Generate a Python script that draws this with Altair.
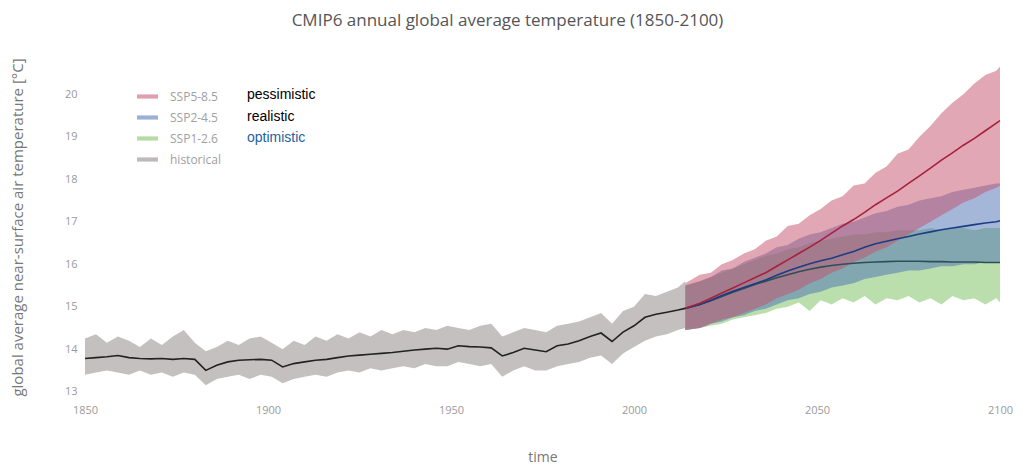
import altair as alt
import pandas as pd

# ---------------- data ----------------
hist_years = [1850, 1853, 1856, 1859, 1862, 1865, 1868, 1871, 1874, 1877,
              1880, 1883, 1886, 1889, 1892, 1895, 1898, 1901, 1904, 1907,
              1910, 1913, 1916, 1919, 1922, 1925, 1928, 1931, 1934, 1937,
              1940, 1943, 1946, 1949, 1952, 1955, 1958, 1961, 1964, 1967,
              1970, 1973, 1976, 1979, 1982, 1985, 1988, 1991, 1994, 1997,
              2000, 2003, 2006, 2009, 2012, 2014]
hist_mean = [13.78, 13.80, 13.82, 13.85, 13.80, 13.78, 13.77, 13.78, 13.76, 13.78,
             13.76, 13.50, 13.62, 13.70, 13.74, 13.75, 13.76, 13.74, 13.58, 13.66,
             13.70, 13.74, 13.76, 13.80, 13.84, 13.86, 13.88, 13.90, 13.92, 13.95,
             13.98, 14.00, 14.02, 14.00, 14.08, 14.06, 14.05, 14.03, 13.84, 13.92,
             14.02, 13.98, 13.94, 14.08, 14.12, 14.20, 14.30, 14.38, 14.18, 14.40,
             14.55, 14.75, 14.82, 14.87, 14.92, 14.96]
hist_hi = [14.25, 14.35, 14.15, 14.30, 14.20, 14.05, 14.25, 14.10, 14.30, 14.45,
           14.15, 13.95, 14.05, 14.20, 14.10, 14.25, 14.30, 14.15, 14.00, 14.20,
           14.10, 14.30, 14.20, 14.35, 14.25, 14.40, 14.30, 14.45, 14.35, 14.45,
           14.40, 14.50, 14.45, 14.55, 14.50, 14.45, 14.55, 14.60, 14.30, 14.40,
           14.50, 14.45, 14.40, 14.55, 14.60, 14.65, 14.75, 14.85, 14.60, 14.90,
           15.00, 15.30, 15.25, 15.35, 15.45, 15.60]
hist_lo = [13.40, 13.45, 13.50, 13.45, 13.40, 13.50, 13.40, 13.45, 13.35, 13.45,
           13.40, 13.15, 13.30, 13.35, 13.40, 13.30, 13.40, 13.35, 13.20, 13.30,
           13.35, 13.40, 13.35, 13.45, 13.50, 13.45, 13.55, 13.50, 13.55, 13.60,
           13.55, 13.65, 13.60, 13.60, 13.70, 13.65, 13.60, 13.65, 13.35, 13.50,
           13.60, 13.50, 13.50, 13.60, 13.65, 13.70, 13.80, 13.85, 13.65, 13.90,
           14.05, 14.20, 14.30, 14.35, 14.45, 14.50]

scen_years = [2014, 2018, 2021, 2024, 2027, 2030, 2033, 2036, 2039, 2042,
              2045, 2048, 2051, 2054, 2057, 2060, 2063, 2066, 2069, 2072,
              2075, 2078, 2081, 2084, 2087, 2090, 2093, 2096, 2099, 2100]

ssp585_mean = [14.96, 15.08, 15.20, 15.32, 15.44, 15.56, 15.68, 15.80, 15.95, 16.10,
               16.25, 16.40, 16.56, 16.73, 16.90, 17.05, 17.22, 17.40, 17.56, 17.72,
               17.90, 18.08, 18.26, 18.45, 18.62, 18.80, 18.96, 19.14, 19.32, 19.38]
ssp585_hi = [15.55, 15.75, 15.80, 16.00, 16.10, 16.25, 16.35, 16.55, 16.65, 16.90,
             16.95, 17.15, 17.30, 17.50, 17.60, 17.85, 17.90, 18.15, 18.30, 18.60,
             18.70, 19.00, 19.25, 19.55, 19.80, 20.00, 20.25, 20.45, 20.55, 20.65]
ssp585_lo = [14.45, 14.50, 14.60, 14.70, 14.75, 14.85, 14.95, 15.05, 15.20, 15.30,
             15.40, 15.55, 15.65, 15.80, 15.90, 16.05, 16.15, 16.30, 16.40, 16.55,
             16.70, 16.85, 17.00, 17.15, 17.30, 17.45, 17.55, 17.70, 17.80, 17.85]

ssp245_mean = [14.96, 15.05, 15.15, 15.26, 15.36, 15.45, 15.54, 15.63, 15.74, 15.84,
               15.93, 16.01, 16.08, 16.14, 16.22, 16.30, 16.40, 16.48, 16.54, 16.60,
               16.65, 16.71, 16.76, 16.81, 16.85, 16.89, 16.93, 16.97, 17.00, 17.02]
ssp245_hi = [15.50, 15.60, 15.70, 15.85, 15.90, 16.05, 16.15, 16.25, 16.40, 16.45,
             16.60, 16.70, 16.75, 16.85, 16.95, 17.00, 17.10, 17.20, 17.25, 17.35,
             17.40, 17.50, 17.55, 17.60, 17.70, 17.75, 17.80, 17.85, 17.90, 17.90]
ssp245_lo = [14.45, 14.50, 14.60, 14.65, 14.75, 14.80, 14.90, 14.95, 15.05, 15.15,
             15.20, 15.30, 15.35, 15.45, 15.50, 15.55, 15.65, 15.70, 15.75, 15.80,
             15.85, 15.85, 15.90, 15.95, 15.95, 16.00, 16.00, 16.05, 16.05, 16.05]

ssp126_mean = [14.96, 15.05, 15.14, 15.24, 15.34, 15.43, 15.52, 15.60, 15.68, 15.75,
               15.82, 15.88, 15.93, 15.97, 16.00, 16.02, 16.04, 16.05, 16.06, 16.07,
               16.07, 16.07, 16.06, 16.06, 16.05, 16.05, 16.05, 16.04, 16.04, 16.04]
ssp126_hi = [15.50, 15.60, 15.70, 15.80, 15.90, 16.00, 16.10, 16.20, 16.25, 16.35,
             16.40, 16.50, 16.55, 16.60, 16.65, 16.70, 16.70, 16.75, 16.75, 16.80,
             16.80, 16.80, 16.85, 16.80, 16.85, 16.85, 16.80, 16.85, 16.85, 16.85]
ssp126_lo = [14.45, 14.50, 14.55, 14.60, 14.70, 14.75, 14.80, 14.85, 14.95, 15.00,
             15.10, 14.90, 15.15, 15.05, 15.20, 15.10, 15.25, 15.05, 15.20, 15.15,
             15.25, 15.10, 15.20, 15.05, 15.25, 15.15, 15.20, 15.05, 15.20, 15.10]

series_names = ["SSP5-8.5", "SSP2-4.5", "SSP1-2.6", "historical"]
band_colors = ["#c4506a", "#4a70b4", "#78c05a", "#8a8282"]
line_colors = {"historical": "#222222", "SSP1-2.6": "#2f4f55",
               "SSP2-4.5": "#1c3c84", "SSP5-8.5": "#a8203c"}

annotations = ["pessimistic", "realistic", "optimistic"]
annotation_colors = ["#000000", "#000000", "#1f5fa0"]

x_ticks = [1850, 1900, 1950, 2000, 2050, 2100]
y_ticks = [13, 14, 15, 16, 17, 18, 19, 20]

# ---------------- build tables ----------------
def table(name, years, lo, mean, hi):
    return pd.DataFrame({"series": name, "year": years, "lo": lo, "mean": mean, "hi": hi})

tables = {
    "historical": table("historical", hist_years, hist_lo, hist_mean, hist_hi),
    "SSP1-2.6": table("SSP1-2.6", scen_years, ssp126_lo, ssp126_mean, ssp126_hi),
    "SSP2-4.5": table("SSP2-4.5", scen_years, ssp245_lo, ssp245_mean, ssp245_hi),
    "SSP5-8.5": table("SSP5-8.5", scen_years, ssp585_lo, ssp585_mean, ssp585_hi),
}

xscale = alt.Scale(domain=[1850, 2100], nice=False, zero=False)
yscale = alt.Scale(domain=[12.85, 20.9], nice=False, zero=False)
cscale = alt.Scale(domain=series_names, range=band_colors)

Y_TITLE = "global average near-surface air temperature [°C]"

x_axis = alt.Axis(values=x_ticks, format="d", grid=False, domain=False, ticks=False,
                  labelFlush=False, labelOverlap=False,
                  labelColor="#9a9a9a", labelFontSize=11, labelFont="Open Sans",
                  labelPadding=6, title="time", titleColor="#777777",
                  titleFont="Open Sans", titleFontSize=14, titleFontWeight="normal",
                  titleY=66, titleBaseline="bottom")
y_axis = alt.Axis(values=y_ticks, grid=False, domain=False, ticks=False,
                  labelFlush=False, labelOverlap=False,
                  labelColor="#9a9a9a", labelFontSize=11, labelFont="Open Sans",
                  labelPadding=8,
                  title=Y_TITLE,
                  titleColor="#777777", titleFont="Open Sans", titleFontSize=15,
                  titleFontWeight="normal", titleAngle=270, titleX=-60, titleY=171,
                  titleAlign="center", titleBaseline="bottom")

legend = alt.Legend(title=None, orient="none", legendX=52, legendY=30,
                    symbolType="M-1,-0.2L1,-0.2L1,0.2L-1,0.2Z", symbolSize=441,
                    symbolOpacity=0.55, symbolStrokeWidth=0,
                    labelColor="#a0a0a0", labelFont="Open Sans", labelFontSize=12,
                    labelOffset=12, rowPadding=4)

X = alt.X("year:Q", scale=xscale, axis=x_axis, title="time")
layers = []
draw_order = ["historical", "SSP1-2.6", "SSP2-4.5", "SSP5-8.5"]
for name in draw_order:
    layers.append(
        alt.Chart(tables[name]).mark_area(fillOpacity=0.5, strokeWidth=0).encode(
            x=X,
            y=alt.Y("lo:Q", scale=yscale, stack=None, axis=y_axis, title=Y_TITLE),
            y2="hi:Q",
            color=alt.Color("series:N", scale=cscale, legend=legend),
        )
    )

for name in draw_order:
    layers.append(
        alt.Chart(tables[name]).mark_line(color=line_colors[name], strokeWidth=1.6).encode(
            x=X,
            y=alt.Y("mean:Q", scale=yscale, axis=y_axis, title=Y_TITLE),
        )
    )

ann_y = [39, 61, 82]
for txt, col, yy in zip(annotations, annotation_colors, ann_y):
    layers.append(
        alt.Chart(pd.DataFrame({"t": [txt]})).mark_text(
            align="left", baseline="middle", font="Liberation Sans", fontSize=14,
            color=col).encode(text="t:N", x=alt.value(162), y=alt.value(yy))
    )

chart = alt.layer(*layers).properties(
    width=915, height=342,
    title=alt.TitleParams("CMIP6 annual global average temperature (1850-2100)",
                          anchor="middle", dx=-35, offset=26, fontSize=17,
                          font="Open Sans", fontWeight="normal", color="#555555"),
    autosize=alt.AutoSizeParams(type="none"),
    padding={"left": 77, "top": 48, "right": 20, "bottom": 70},
).configure(background="white").configure_view(strokeWidth=0, stroke=None)

chart.save("out.html", embed_options={"renderer": "svg", "actions": False})
